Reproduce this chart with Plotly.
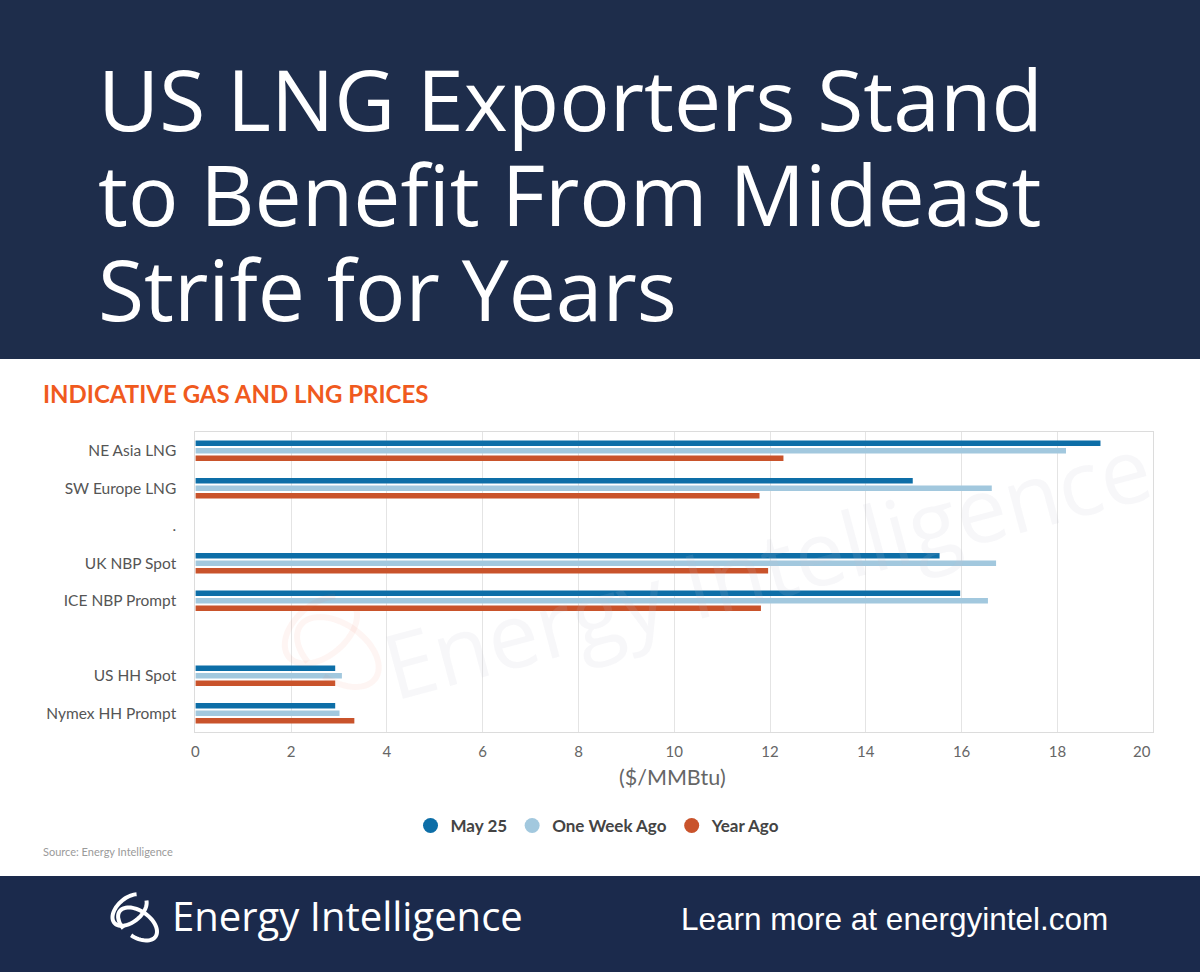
import numpy as np
import plotly.graph_objects as go

W, H = 1200, 972

categories = ["NE Asia LNG", "SW Europe LNG", ".", "UK NBP Spot", "ICE NBP Prompt", " ", "US HH Spot", "Nymex HH Prompt"]
may25 = [18.90, 14.98, None, 15.54, 15.97, None, 2.92, 2.92]
one_week_ago = [18.18, 16.63, None, 16.72, 16.55, None, 3.06, 3.01]
year_ago = [12.28, 11.78, None, 11.96, 11.81, None, 2.92, 3.32]
series_names = ["May 25", "One Week Ago", "Year Ago"]
x_ticks = [0, 2, 4, 6, 8, 10, 12, 14, 16, 18, 20]

colors = ["#0d6ea7", "#a2c8de", "#c9532b"]
NAVY = "#1e2d4b"

def px(x):
    return x / W

def py(y):
    return 1 - y / H

fig = go.Figure()
for name, vals, c in zip(series_names, [may25, one_week_ago, year_ago], colors):
    fig.add_trace(go.Bar(y=categories, x=vals, orientation="h", name=name,
                         marker=dict(color=c, line=dict(width=0)), showlegend=False))
# legend entries with round markers
for name, c in zip(series_names, colors):
    fig.add_trace(go.Scatter(x=[None], y=[None], mode="markers", name=name,
                             marker=dict(color=c, size=15, symbol="circle")))

shapes = [
    dict(type="rect", xref="paper", yref="paper", x0=-0.01, x1=1.01, y0=py(359), y1=1.01,
         fillcolor=NAVY, line=dict(width=0), layer="below"),
    dict(type="rect", xref="paper", yref="paper", x0=-0.01, x1=1.01, y0=-0.01, y1=py(876),
         fillcolor="#1b2a4c", line=dict(width=0), layer="below"),
]

def ellipse_path(cx, cy, rx, ry, rot, t0, t1, n=60):
    t = np.linspace(t0, t1, n)
    xs = rx * np.cos(t)
    ys = ry * np.sin(t)
    r = np.deg2rad(rot)
    X = cx + xs * np.cos(r) - ys * np.sin(r)
    Y = cy + xs * np.sin(r) + ys * np.cos(r)
    pts = ["%s%.5f,%.5f" % ("M" if i == 0 else "L", px(a), py(b)) for i, (a, b) in enumerate(zip(X, Y))]
    return " ".join(pts)

# footer logo swirl (decorative)
for (cx, cy, rx, ry, rot, t0, t1, w) in [
    (126, 910, 20, 12, -40, 0.3, 5.6, 4),
    (134, 924, 22, 13, 35, 2.0, 7.8, 4),
]:
    shapes.append(dict(type="path", xref="paper", yref="paper",
                       path=ellipse_path(cx, cy, rx, ry, rot, t0, t1),
                       line=dict(color="white", width=w)))
# faint watermark logo
for (cx, cy, rx, ry, rot, t0, t1, w) in [
    (318, 630, 42, 26, -40, 0.3, 5.6, 6),
    (335, 652, 46, 28, 35, 2.0, 7.8, 6),
]:
    shapes.append(dict(type="path", xref="paper", yref="paper",
                       path=ellipse_path(cx, cy, rx, ry, rot, t0, t1),
                       line=dict(color="rgba(240,120,80,0.07)", width=w)))

title_font = dict(family="Open Sans", size=84, color="white")
annotations = [
    dict(text="US LNG Exporters Stand", x=px(92), y=py(98), xanchor="left", yanchor="middle",
         xref="paper", yref="paper", showarrow=False, font=title_font),
    dict(text="to Benefit From Mideast", x=px(92), y=py(193), xanchor="left", yanchor="middle",
         xref="paper", yref="paper", showarrow=False, font=title_font),
    dict(text="Strife for Years", x=px(92), y=py(288), xanchor="left", yanchor="middle",
         xref="paper", yref="paper", showarrow=False, font=title_font),
    dict(text="<b>INDICATIVE GAS AND LNG PRICES</b>", x=px(37), y=py(393), xanchor="left", yanchor="middle",
         xref="paper", yref="paper", showarrow=False,
         font=dict(family="Lato", size=24, color="#f05a1e")),
    dict(text="($/MMBtu)", x=px(671), y=py(777), xanchor="center", yanchor="middle",
         xref="paper", yref="paper", showarrow=False,
         font=dict(family="Lato", size=21.5, color="#666666")),
    dict(text=str(x_ticks[-1]), x=x_ticks[-1], xref="x", y=py(751), yref="paper",
         xanchor="right", yanchor="middle", showarrow=False,
         font=dict(family="Lato", size=15, color="#666666")),
    dict(text="Source: Energy Intelligence", x=px(37), y=py(851), xanchor="left", yanchor="middle",
         xref="paper", yref="paper", showarrow=False,
         font=dict(family="Lato", size=11, color="#9a9a9a")),
    dict(text="Energy Intelligence", x=px(167), y=py(915), xanchor="left", yanchor="middle",
         xref="paper", yref="paper", showarrow=False,
         font=dict(family="Open Sans", size=40, color="white")),
    dict(text="Learn more at energyintel.com", x=px(677), y=py(919), xanchor="left", yanchor="middle",
         xref="paper", yref="paper", showarrow=False,
         font=dict(family="Liberation Sans", size=31.5, color="white")),
    dict(text="Energy Intelligence", x=px(765), y=py(565), xanchor="center", yanchor="middle",
         xref="paper", yref="paper", showarrow=False, textangle=-15,
         font=dict(family="Open Sans", size=90, color="rgba(190,195,210,0.13)")),
]

fig.update_layout(
    width=W, height=H,
    margin=dict(l=0, r=0, t=0, b=0),
    paper_bgcolor="white", plot_bgcolor="white",
    barmode="group", bargap=0.40, bargroupgap=0.26,
    shapes=shapes, annotations=annotations,
    showlegend=True,
    legend=dict(orientation="h", x=px(596), xanchor="center", y=py(826), yanchor="middle",
                font=dict(family="Lato", size=17, color="#444444", weight="bold"),
                bgcolor="rgba(0,0,0,0)", itemclick=False),
    xaxis=dict(domain=[px(192), px(1153)], range=[0, 20], tickvals=x_ticks[:-1],
               showgrid=True, gridcolor="#e4e4e4", gridwidth=1, zeroline=False,
               showline=True, linecolor="#dcdcdc", linewidth=1, mirror=True,
               ticks="", ticklabelstandoff=6,
               tickfont=dict(family="Lato", size=15, color="#666666")),
    yaxis=dict(domain=[py(732), py(432)], type="category",
               categoryorder="array", categoryarray=categories,
               range=[7.5, -0.5], showgrid=False, zeroline=False,
               showline=True, linecolor="#dcdcdc", linewidth=1, mirror=True,
               ticks="", ticklabelstandoff=15,
               tickfont=dict(family="Lato", size=15.5, color="#555555")),
)

fig.write_html("out.html", post_script="document.body.style.margin='0';")
